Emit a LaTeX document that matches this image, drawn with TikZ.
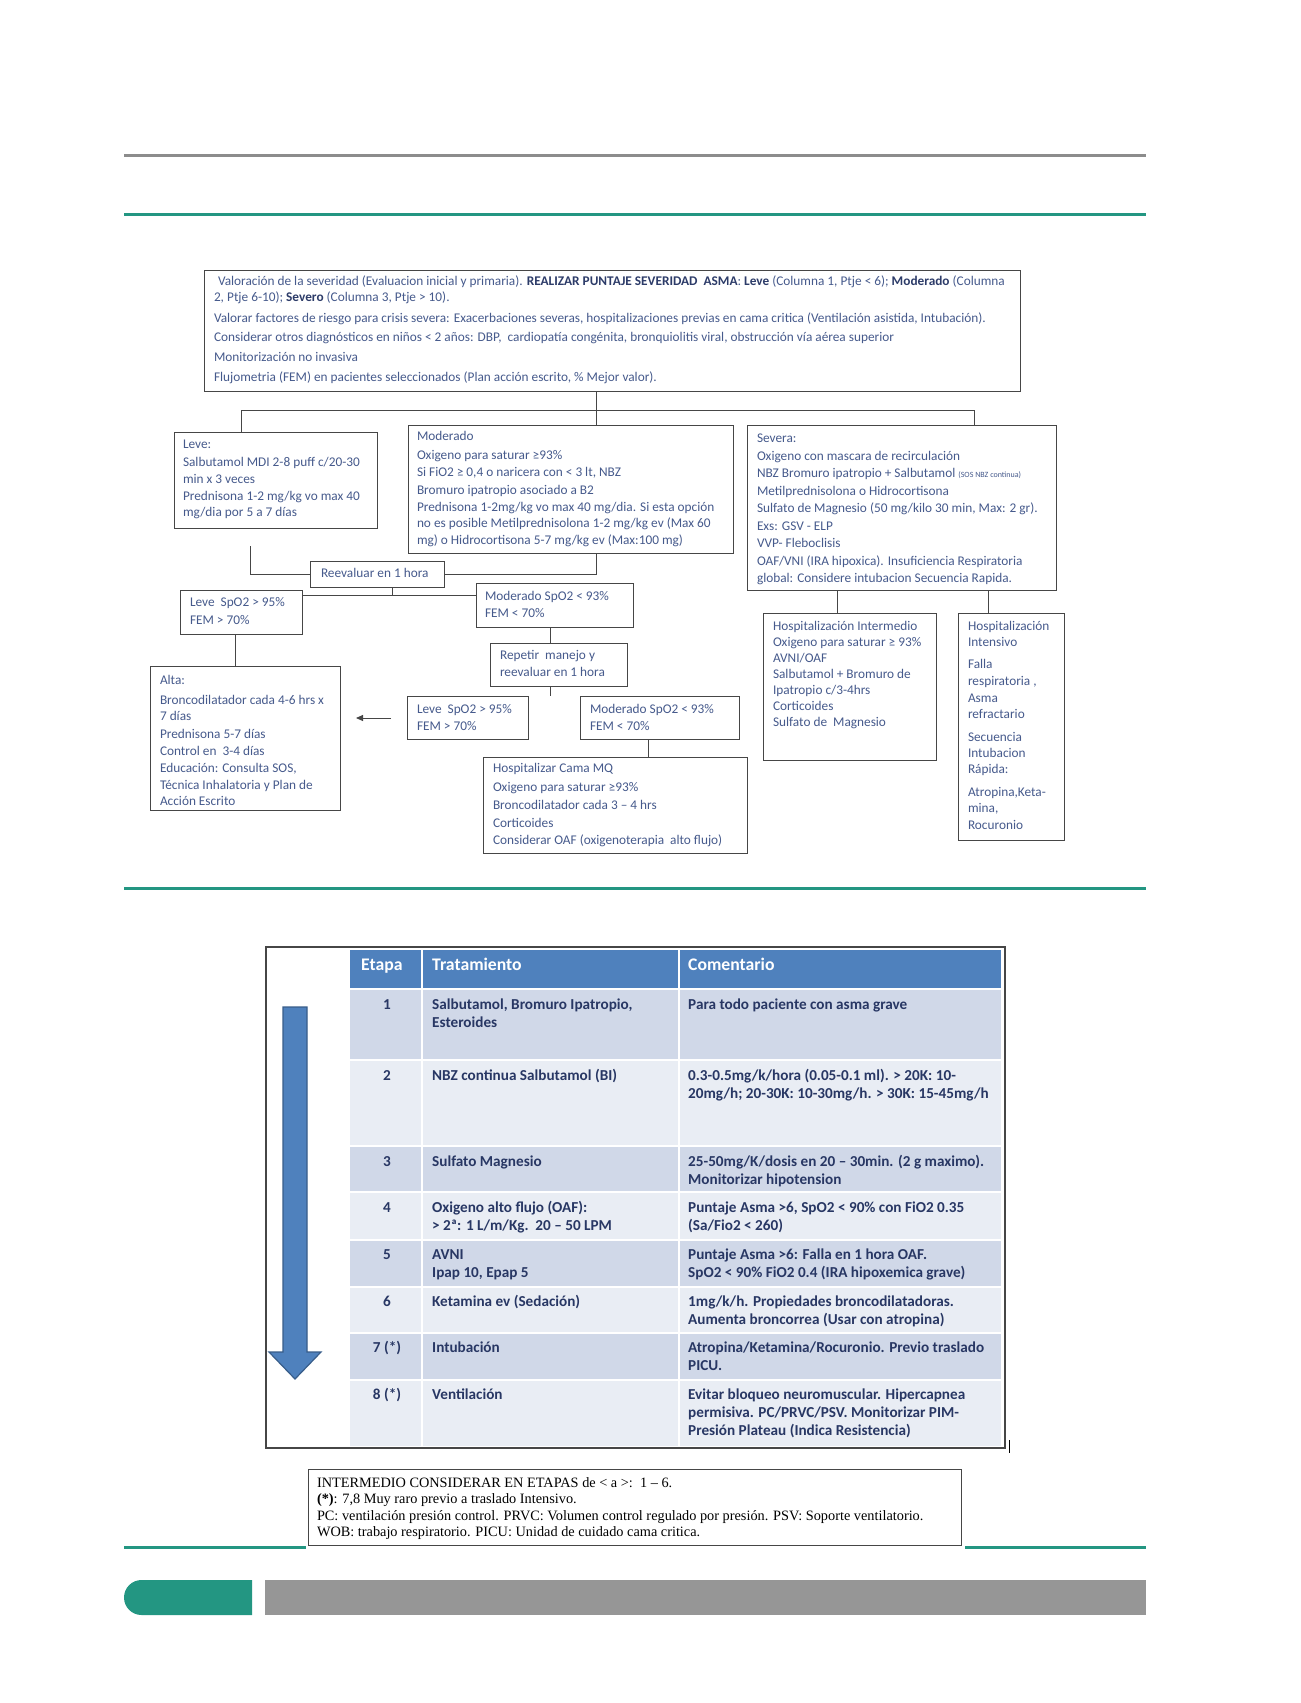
\documentclass[tikz,border=0pt]{standalone}
\usepackage{fontspec}
\setmainfont{Carlito}
\newfontfamily\timesf{Liberation Serif}
\usetikzlibrary{arrows.meta}
\definecolor{flowtxt}{RGB}{70,90,140}
\definecolor{flowbold}{RGB}{45,60,105}
\definecolor{boxline}{RGB}{70,70,70}
\definecolor{pageteal}{RGB}{35,150,130}
\definecolor{hdrblue}{RGB}{79,129,189}
\definecolor{rowdark}{RGB}{208,216,232}
\definecolor{rowlight}{RGB}{233,237,244}
\definecolor{tabtxt}{RGB}{40,55,100}
\definecolor{arrowedge}{RGB}{56,93,138}
\definecolor{pagegray}{RGB}{140,140,140}
\definecolor{bargray}{RGB}{150,150,150}
\newcommand{\flowfont}{\fontsize{13.3}{16}\selectfont}
\newcommand{\tabfont}{\fontsize{15.2}{18}\selectfont\bfseries}
\newcommand{\bxc}[5]{\begin{minipage}[t][#2pt][t]{#1pt}\raggedright\leftskip=#4pt\relax\vspace*{#3pt}\rule{0pt}{10pt}#5\end{minipage}}
\newcommand{\tcell}[1]{\begin{minipage}[t]{330pt}\raggedright\rule{0pt}{13pt}#1\end{minipage}}
\newcommand{\bb}[1]{\textcolor{flowbold}{\textbf{#1}}}
\begin{document}
\begin{tikzpicture}[x=1pt,y=-1pt,
  box/.style={draw=boxline, line width=1pt, inner sep=0pt, outer sep=0pt, anchor=north west, fill=white, text=flowtxt, font=\flowfont},
  conn/.style={draw=boxline, line width=1pt},
  tabt/.style={font=\tabfont, text=tabtxt, inner sep=0pt},
  hdrt/.style={font=\fontsize{17.7}{20}\selectfont\bfseries, text=white, inner sep=0pt, anchor=base west}]
\useasboundingbox (0,0) rectangle (1301,1703);
\fill[white] (0,0) rectangle (1301,1703);
% page decorations
\draw[pagegray, line width=3pt] (124,155) -- (1146,155);
\draw[pageteal, line width=3pt] (124,214) -- (1146,214);
\draw[pageteal, line width=3pt] (124,888) -- (1146,888);
\draw[pageteal, line width=3pt] (124,1547) -- (306,1547);
\draw[pageteal, line width=3pt] (965,1547) -- (1146,1547);
\fill[pageteal] (252,1580) -- (141.5,1580) arc[start angle=90, end angle=270, radius=17.5pt] -- (252,1615) -- cycle;
\fill[bargray] (265,1580) rectangle (1146,1615);

% flowchart boxes
\node[box] (top) at (204,270) {\bxc{816}{121}{5}{10}{\hspace*{4pt}Valoración de la severidad (Evaluacion inicial y primaria). \bb{REALIZAR PUNTAJE SEVERIDAD\ \ ASMA}: \bb{Leve} (Columna 1, Ptje < 6); \bb{Moderado} (Columna\\[0.4pt]
2, Ptje 6-10); \bb{Severo} (Columna 3, Ptje > 10).\\[4.6pt]
Valorar factores de riesgo para crisis severa: Exacerbaciones severas, hospitalizaciones previas en cama critica (Ventilación asistida, Intubación).\\[3.6pt]
Considerar otros diagnósticos en niños < 2 años: DBP,\ \ cardiopatía congénita, bronquiolitis viral, obstrucción vía aérea superior\\[3.4pt]
Monitorización no invasiva\\[4.8pt]
Flujometria (FEM) en pacientes seleccionados (Plan acción escrito, \% Mejor valor).}};

\node[box] (leve) at (174,432) {\bxc{203}{96}{6}{9}{Leve:\\[2.5pt]
Salbutamol MDI 2-8 puff c/20-30\\[0.5pt]
min x 3 veces\\[1pt]
Prednisona 1-2 mg/kg vo max 40\\[0.5pt]
mg/dia por 5 a 7 días}};

\node[box] (mod) at (408,425) {\bxc{325}{128}{5.5}{9}{Moderado\\[2.5pt]
Oxigeno para saturar ≥93\%\\[1pt]
Si FiO2 ≥ 0,4 o naricera con < 3 lt, NBZ\\[2.5pt]
Bromuro ipatropio asociado a B2\\[0.5pt]
Prednisona 1-2mg/kg vo max 40 mg/dia. Si esta opción\\[0.5pt]
no es posible Metilprednisolona 1-2 mg/kg ev (Max 60\\[1pt]
mg) o Hidrocortisona 5-7 mg/kg ev (Max:100 mg)}};

\node[box] (sev) at (747,425) {\bxc{309}{165}{7.6}{10}{Severa:\\[1.5pt]
Oxigeno con mascara de recirculación\\[1.5pt]
NBZ Bromuro ipatropio + Salbutamol {\fontsize{8}{10}\selectfont(SOS NBZ continua)}\\[1.5pt]
Metilprednisolona o Hidrocortisona\\[1.5pt]
Sulfato de Magnesio (50 mg/kilo 30 min, Max: 2 gr).\\[1.5pt]
Exs: GSV - ELP\\[1.5pt]
VVP- Fleboclisis\\[1.5pt]
OAF/VNI (IRA hipoxica). Insuficiencia Respiratoria\\[1.5pt]
global: Considere intubacion Secuencia Rapida.}};

\node[box] (reev) at (310,561) {\bxc{134}{26}{6}{11}{Reevaluar en 1 hora}};
\node[box] (leveA) at (180,590) {\bxc{122}{44}{6.6}{10}{Leve\ \ SpO2 > 95\%\\[1.4pt]FEM > 70\%}};
\node[box] (modA) at (476,583) {\bxc{157}{44}{7}{9}{Moderado SpO2 < 93\%\\[1.5pt]FEM < 70\%}};
\node[box] (alta) at (150,666) {\bxc{190}{144}{8.8}{10}{Alta:\\[3.5pt]
Broncodilatador cada 4-6 hrs x\\[0.3pt]
7 días\\[1.4pt]
Prednisona 5-7 días\\[1.4pt]
Control en\ \ 3-4 días\\[1.3pt]
Educación: Consulta SOS,\\[0.3pt]
Técnica Inhalatoria y Plan de\\
Acción Escrito}};
\node[box] (rep) at (490,643) {\bxc{137}{43}{6.8}{10}{Repetir\ \ manejo y\\[0.2pt]reevaluar en 1 hora}};
\node[box] (leveB) at (407,696) {\bxc{121}{43}{7}{10}{Leve\ \ SpO2 > 95\%\\[1.4pt]FEM > 70\%}};
\node[box] (modB) at (580,696) {\bxc{159}{43}{7}{10}{Moderado SpO2 < 93\%\\[1.4pt]FEM < 70\%}};
\node[box] (mq) at (483,757) {\bxc{264}{96}{5.7}{10}{Hospitalizar Cama MQ\\[2.5pt]
Oxigeno para saturar ≥93\%\\[2.4pt]
Broncodilatador cada 3 – 4 hrs\\[1.4pt]
Corticoides\\[1.4pt]
Considerar OAF (oxigenoterapia\ \ alto flujo)}};
\node[box] (inter) at (763,613) {\bxc{173}{147}{7.5}{10}{Hospitalización Intermedio\\
Oxigeno para saturar ≥ 93\%\\
AVNI/OAF\\
Salbutamol + Bromuro de\\
Ipatropio c/3-4hrs\\
Corticoides\\
Sulfato de\ \ Magnesio}};
\node[box] (inten) at (958,613) {\bxc{106}{227}{7.5}{10}{Hospitalización\\[0.3pt]
Intensivo\\[5.7pt]
Falla\\[1.4pt]
respiratoria ,\\[0.3pt]
Asma\\
refractario\\[6.8pt]
Secuencia\\[0.3pt]
Intubacion\\[0.3pt]
Rápida:\\[6.8pt]
Atropina,Keta-\\[0.3pt]
mina,\\[0.3pt]
Rocuronio}};

% connectors
\coordinate (j0) at (596,410);
\coordinate (jL) at (241,410);
\coordinate (jR) at (974,410);
\draw[conn] (top.south -| j0) -- (mod.north -| j0);
\draw[conn] (leve.north -| jL) -- (jL) -- (jR) -- (sev.north -| jR);
\coordinate (lv1) at (250,546);
\draw[conn] (lv1) |- (reev.west);
\draw[conn] (mod.south -| j0) |- (reev.east);
\coordinate (h1) at (392,595);
\draw[conn] (reev.south -| h1) -- (h1);
\draw[conn] (leveA.east |- h1) -- (modA.west |- h1);
\coordinate (c1) at (235,0);
\draw[conn] (leveA.south -| c1) -- (alta.north -| c1);
\coordinate (c2) at (550,0);
\draw[conn] (modA.south -| c2) -- (rep.north -| c2);
\coordinate (rp1) at (550,696);
\draw[conn] (rep.south -| rp1) -- (rp1);
\coordinate (ar1) at (391,718);
\coordinate (ar2) at (356,718);
\draw[conn, -{Triangle[length=7pt,width=6pt]}] (ar1) -- (ar2);
\coordinate (c3) at (648,0);
\draw[conn] (modB.south -| c3) -- (mq.north -| c3);
\coordinate (c4) at (837,0);
\draw[conn] (sev.south -| c4) -- (inter.north -| c4);
\coordinate (c5) at (988,0);
\draw[conn] (sev.south -| c5) -- (inten.north -| c5);

% table frame
\draw[draw=boxline, line width=1.5pt] (266,947) rectangle (1005,1448);
\draw[black, line width=0.8pt] (1009,1440) -- (1009,1453);
% blue arrow
\filldraw[fill=hdrblue, draw=arrowedge, line width=1.2pt] (283,1007) -- (307,1007) -- (307,1352) -- (321,1352) -- (295,1379) -- (269,1352) -- (283,1352) -- cycle;
% header
\fill[hdrblue] (350,950) rectangle (421,988);
\fill[hdrblue] (423,950) rectangle (678,988);
\fill[hdrblue] (680,950) rectangle (1001,988);
\foreach \t/\b/\c in {990/1059/rowdark, 1061/1145/rowlight, 1147/1191/rowdark, 1193/1239/rowlight, 1241/1286/rowdark, 1288/1332/rowlight, 1334/1379/rowdark, 1381/1446/rowlight}{
  \fill[\c] (350,\t) rectangle (421,\b);
  \fill[\c] (423,\t) rectangle (678,\b);
  \fill[\c] (680,\t) rectangle (1001,\b);
}
\node[hdrt] (h1t) at (361,970) {Etapa};
\node[hdrt] (h2t) at (432,970) {Tratamiento};
\node[hdrt] (h3t) at (688,970) {Comentario};

\node[tabt, anchor=base] (n1) at (387,1009) {1};
\node[tabt, anchor=north west] (a1) at (432,996) {\tcell{Salbutamol, Bromuro Ipatropio,\\Esteroides}};
\node[tabt, anchor=north west] (b1) at (688,996) {\tcell{Para todo paciente con asma grave}};

\node[tabt, anchor=base] (n2) at (387,1080) {2};
\node[tabt, anchor=north west] (a2) at (432,1067) {\tcell{NBZ continua Salbutamol (BI)}};
\node[tabt, anchor=north west] (b2) at (688,1067) {\tcell{0.3-0.5mg/k/hora (0.05-0.1 ml). > 20K: 10-\\20mg/h; 20-30K: 10-30mg/h. > 30K: 15-45mg/h}};

\node[tabt, anchor=base] (n3) at (387,1166) {3};
\node[tabt, anchor=north west] (a3) at (432,1153) {\tcell{Sulfato Magnesio}};
\node[tabt, anchor=north west] (b3) at (688,1153) {\tcell{25-50mg/K/dosis en 20 – 30min. (2 g maximo).\\Monitorizar hipotension}};

\node[tabt, anchor=base] (n4) at (387,1212) {4};
\node[tabt, anchor=north west] (a4) at (432,1199) {\tcell{Oxigeno alto flujo (OAF):\\> 2ª: 1 L/m/Kg.\ \ 20 – 50 LPM}};
\node[tabt, anchor=north west] (b4) at (688,1199) {\tcell{Puntaje Asma >6, SpO2 < 90\% con FiO2 0.35\\(Sa/Fio2 < 260)}};

\node[tabt, anchor=base] (n5) at (387,1259) {5};
\node[tabt, anchor=north west] (a5) at (432,1246) {\tcell{AVNI\\Ipap 10, Epap 5}};
\node[tabt, anchor=north west] (b5) at (688,1246) {\tcell{Puntaje Asma >6: Falla en 1 hora OAF.\\SpO2 < 90\% FiO2 0.4 (IRA hipoxemica grave)}};

\node[tabt, anchor=base] (n6) at (387,1306) {6};
\node[tabt, anchor=north west] (a6) at (432,1293) {\tcell{Ketamina ev (Sedación)}};
\node[tabt, anchor=north west] (b6) at (688,1293) {\tcell{1mg/k/h. Propiedades broncodilatadoras.\\Aumenta broncorrea (Usar con atropina)}};

\node[tabt, anchor=base] (n7) at (387,1352) {7 (*)};
\node[tabt, anchor=north west] (a7) at (432,1339) {\tcell{Intubación}};
\node[tabt, anchor=north west] (b7) at (688,1339) {\tcell{Atropina/Ketamina/Rocuronio. Previo traslado\\PICU.}};

\node[tabt, anchor=base] (n8) at (387,1399) {8 (*)};
\node[tabt, anchor=north west] (a8) at (432,1386) {\tcell{Ventilación}};
\node[tabt, anchor=north west] (b8) at (688,1386) {\tcell{Evitar bloqueo neuromuscular. Hipercapnea\\permisiva. PC/PRVC/PSV. Monitorizar PIM-\\Presión Plateau (Indica Resistencia)}};

% footnote
\node[box, text=black, font=\timesf\fontsize{14.3}{16.3}\selectfont] (note) at (308,1469) {\bxc{653}{76}{8.5}{9}{INTERMEDIO CONSIDERAR EN ETAPAS de < a >:\ \ 1 – 6.\\
\textbf{(*)}: 7,8 Muy raro previo a traslado Intensivo.\\
PC: ventilación presión control. PRVC: Volumen control regulado por presión. PSV: Soporte ventilatorio.\\
WOB: trabajo respiratorio. PICU: Unidad de cuidado cama critica.}};
\end{tikzpicture}
\end{document}
